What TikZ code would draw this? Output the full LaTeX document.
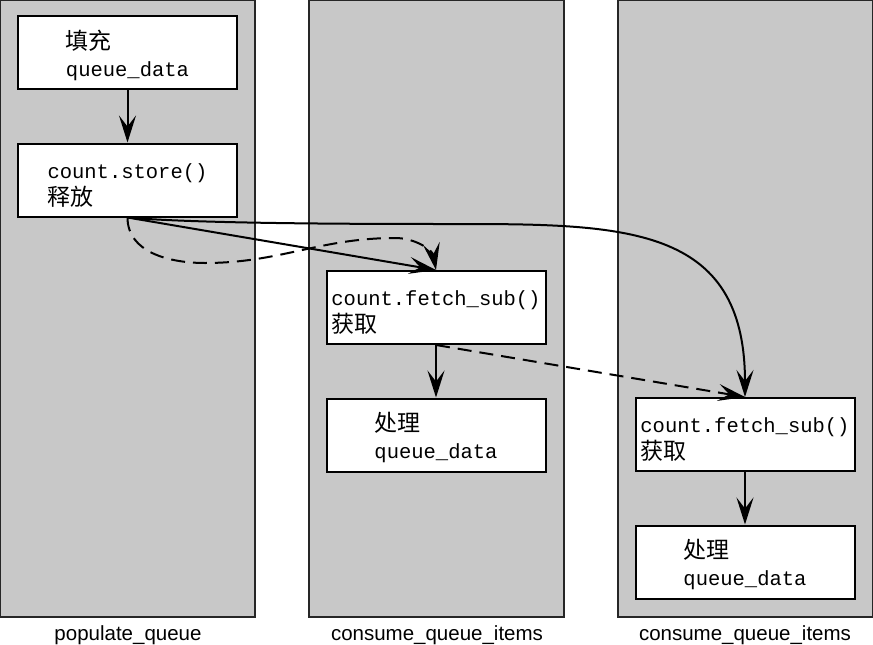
\documentclass[tikz,border=0pt]{standalone}
\usepackage{fontspec}
\setmainfont{Liberation Sans}
\newfontfamily\cjkfont{Noto Sans CJK SC}
\newfontfamily\monofont{Liberation Mono}
\usetikzlibrary{arrows.meta}
\definecolor{lanegray}{RGB}{200,200,200}
\tikzset{
  lane/.style={draw=black!85, line width=1.2pt, fill=lanegray},
  stepbox/.style={draw=black, line width=2pt, fill=white, minimum width=219pt,
    minimum height=73pt, inner sep=0pt, align=left, font=\fontsize{20.5}{27}\selectfont},
  arr/.style={line width=2pt, -{Stealth[length=27pt,width=17pt,inset=11pt]}},
  dashline/.style={dash pattern=on 14pt off 8pt},
  lanelabel/.style={font=\fontsize{20.5}{24}\selectfont, inner sep=0pt}
}
\newcommand{\zh}[1]{{\cjkfont\fontsize{23}{27}\selectfont #1}}
\newcommand{\mo}[1]{{\monofont #1}}
\newcommand{\topstrut}{\rule{0pt}{25pt}}
\begin{document}
\begin{tikzpicture}[x=1pt,y=-1pt]
\useasboundingbox (0,0) rectangle (873,645);
% lanes
\draw[lane] (0.6,0.6) rectangle (255,617);
\draw[lane] (309,0.6) rectangle (564,617);
\draw[lane] (618,0.6) rectangle (872.4,617);
% boxes
\node[stepbox] (A) at (127.5,52.5) {\topstrut\zh{填充}\\\mo{queue\_data}};
\node[stepbox] (B) at (127.5,180) {\topstrut\mo{count.store()}\\\zh{释放}};
\node[stepbox] (C) at (436,307.5) {\topstrut\mo{count.fetch\_sub()}\\\zh{获取}};
\node[stepbox] (D) at (436,435) {\topstrut\zh{处理}\\\mo{queue\_data}};
\node[stepbox] (E) at (745,434.5) {\topstrut\mo{count.fetch\_sub()}\\\zh{获取}};
\node[stepbox] (F) at (745,562) {\topstrut\zh{处理}\\\mo{queue\_data}};
% labels
\node[lanelabel] (l1) at (128,635.5) {populate\_queue};
\node[lanelabel] (l2) at (437,635.5) {consume\_queue\_items};
\node[lanelabel] (l3) at (745,635.5) {consume\_queue\_items};
% connectors
\draw[arr] (A) -- (B);
\draw[arr] (B.south) -- (C.north);
\draw[arr] (B.south) .. controls (200,224) and (380,224) .. (450,224)
   .. controls (624,224) and (745,224) .. (E.north);
\draw[arr,dashline] (B.south) to[out=-90,in=180] (205,263) to[out=0,in=180] (395,238)
   to[out=0,in=100] (C.north);
\draw[arr] (C) -- (D);
\draw[arr,dashline] (C.south) -- (E.north);
\draw[arr] (E) -- (F);
\end{tikzpicture}
\end{document}
